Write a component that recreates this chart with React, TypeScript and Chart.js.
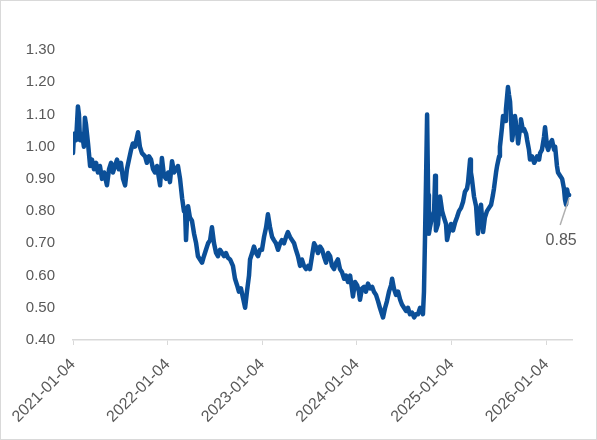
import React, { useEffect, useRef } from "react";
import { Chart, registerables } from "chart.js";

Chart.register(...registerables);

const startDate = "2021-01-04";
const tickLabels = ["2021-01-04", "2022-01-04", "2023-01-04", "2024-01-04", "2025-01-04", "2026-01-04"];
const yTicks = [0.4, 0.5, 0.6, 0.7, 0.8, 0.9, 1.0, 1.1, 1.2, 1.3];

// day offsets from startDate
const dayOffsets = [
  0, 4, 12, 19, 23, 27, 35, 42, 46, 50, 58, 66, 73, 81, 89, 96, 104, 112, 120, 131,
  139, 147, 154, 162, 170, 177, 185, 193, 201, 208, 216, 224, 231, 239, 247, 251, 258, 266, 278, 285,
  293, 301, 309, 316, 324, 332, 336, 343, 351, 359, 367, 374, 382, 390, 397, 405, 413, 421, 428, 432,
  436, 440, 444, 451, 459, 467, 475, 482, 490, 498, 505, 513, 521, 529, 536, 544, 552, 559, 567, 575,
  583, 590, 598, 606, 617, 625, 633, 640, 648, 656, 664, 671, 679, 683, 691, 698, 706, 714, 721, 729,
  737, 745, 752, 760, 768, 775, 783, 791, 799, 806, 814, 822, 829, 837, 845, 853, 860, 868, 876, 883,
  891, 899, 907, 914, 922, 930, 937, 945, 953, 961, 968, 976, 984, 992, 999, 1007, 1015, 1022, 1030, 1038,
  1046, 1053, 1061, 1069, 1076, 1080, 1088, 1096, 1103, 1107, 1115, 1123, 1130, 1138, 1146, 1154, 1161, 1169, 1177, 1184,
  1192, 1196, 1204, 1211, 1219, 1227, 1231, 1238, 1246, 1254, 1262, 1269, 1277, 1285, 1292, 1300, 1308, 1316, 1323, 1331,
  1339, 1346, 1350, 1354, 1358, 1362, 1366, 1370, 1373, 1377, 1385, 1393, 1397, 1400, 1408, 1416, 1424, 1431, 1439, 1443,
  1451, 1458, 1466, 1474, 1481, 1489, 1497, 1505, 1512, 1520, 1524, 1532, 1535, 1539, 1547, 1555, 1562, 1570, 1574, 1582,
  1589, 1597, 1605, 1613, 1620, 1624, 1632, 1636, 1644, 1647, 1655, 1659, 1667, 1670, 1678, 1682, 1686, 1694, 1701, 1705,
  1713, 1717, 1725, 1728, 1736, 1740, 1748, 1752, 1759, 1763, 1771, 1779, 1786, 1790, 1798, 1802, 1809, 1817, 1821, 1829,
  1833, 1840, 1848, 1856, 1860, 1867, 1871, 1879, 1887, 1894, 1898, 1902, 1906, 1910, 1914,
];

const values = [
  0.98, 1.04, 1.02, 1.125, 1.1, 1.02, 1.04, 1.0, 1.09, 1.07, 1.01, 0.94, 0.96, 0.93, 0.95, 0.92, 0.94, 0.9, 0.92, 0.88,
  0.93, 0.95, 0.92, 0.94, 0.96, 0.93, 0.95, 0.9, 0.88, 0.93, 0.96, 0.99, 1.01, 1.0, 1.03, 1.045, 1.0, 0.98, 0.97, 0.95,
  0.97, 0.96, 0.93, 0.92, 0.94, 0.9, 0.88, 0.965, 0.91, 0.9, 0.92, 0.89, 0.955, 0.92, 0.93, 0.94, 0.9, 0.84, 0.8, 0.81,
  0.71, 0.78, 0.815, 0.78, 0.77, 0.73, 0.7, 0.66, 0.65, 0.64, 0.66, 0.68, 0.7, 0.71, 0.75, 0.7, 0.67, 0.66, 0.68, 0.67,
  0.66, 0.67, 0.655, 0.65, 0.63, 0.59, 0.57, 0.55, 0.56, 0.53, 0.5, 0.55, 0.6, 0.65, 0.67, 0.69, 0.67, 0.66, 0.68, 0.68,
  0.72, 0.75, 0.79, 0.75, 0.72, 0.71, 0.7, 0.68, 0.7, 0.71, 0.7, 0.72, 0.735, 0.72, 0.71, 0.7, 0.68, 0.66, 0.63, 0.65,
  0.63, 0.62, 0.63, 0.62, 0.66, 0.7, 0.69, 0.67, 0.69, 0.68, 0.66, 0.64, 0.67, 0.66, 0.63, 0.62, 0.64, 0.65, 0.62, 0.61,
  0.59, 0.6, 0.58, 0.6, 0.56, 0.535, 0.58, 0.57, 0.55, 0.525, 0.56, 0.565, 0.55, 0.575, 0.56, 0.565, 0.55, 0.54, 0.52, 0.5,
  0.48, 0.47, 0.5, 0.52, 0.55, 0.57, 0.59, 0.56, 0.54, 0.55, 0.525, 0.51, 0.5, 0.49, 0.5, 0.48, 0.485, 0.47, 0.48, 0.48,
  0.5, 0.49, 0.48, 0.55, 0.72, 0.9, 1.1, 0.85, 0.73, 0.75, 0.78, 0.8, 0.91, 0.74, 0.76, 0.845, 0.8, 0.78, 0.76, 0.71,
  0.74, 0.76, 0.74, 0.765, 0.78, 0.8, 0.81, 0.83, 0.86, 0.87, 0.89, 0.96, 0.92, 0.9, 0.845, 0.815, 0.73, 0.8, 0.82, 0.735,
  0.78, 0.8, 0.81, 0.82, 0.85, 0.87, 0.92, 0.94, 0.97, 1.0, 1.06, 1.095, 1.08, 1.115, 1.185, 1.16, 1.14, 1.02, 1.06, 1.095,
  1.05, 1.01, 1.06, 1.085, 1.05, 1.055, 1.04, 1.02, 0.99, 0.96, 0.97, 0.95, 0.96, 0.97, 0.96, 0.98, 0.99, 1.03, 1.06, 1.0,
  0.99, 1.01, 1.02, 0.99, 1.0, 0.94, 0.92, 0.91, 0.9, 0.87, 0.836, 0.82, 0.867, 0.85, 0.85,
];

const DAY = 86400000;
const toOffset = (d: string) => Math.round((Date.parse(d) - Date.parse(startDate)) / DAY);

const TEXT = "#595959";
const AXIS = "#d9d9d9";
const LINE = "#0b4f98";
const FONT = "'Liberation Sans', Arial, sans-serif";

const lastLabelPlugin = {
  id: "lastLabel",
  afterDatasetsDraw(chart: any) {
    const meta = chart.getDatasetMeta(0);
    const pt = meta.data[meta.data.length - 1];
    if (!pt) return;
    const ctx = chart.ctx;
    const v = values[values.length - 1];
    ctx.save();
    ctx.strokeStyle = "#b0b0b0";
    ctx.lineWidth = 1.5;
    ctx.beginPath();
    ctx.moveTo(pt.x, pt.y + 3);
    ctx.lineTo(pt.x - 9, pt.y + 30);
    ctx.stroke();
    ctx.fillStyle = TEXT;
    ctx.font = `16px ${FONT}`;
    ctx.textAlign = "center";
    ctx.textBaseline = "middle";
    ctx.fillText(v.toFixed(2), pt.x - 8, pt.y + 46);
    ctx.restore();
  },
};

export default function App() {
  const ref = useRef<HTMLCanvasElement | null>(null);
  useEffect(() => {
    if (!ref.current) return;
    const data = dayOffsets.map((d, i) => ({ x: d, y: values[i] }));
    const tickVals = tickLabels.map(toOffset);
    const chart = new Chart(ref.current, {
      type: "line",
      data: {
        datasets: [
          {
            data,
            borderColor: LINE,
            borderWidth: 4.5,
            pointRadius: 0,
            tension: 0,
            borderJoinStyle: "round",
            borderCapStyle: "round",
            fill: false,
          },
        ],
      },
      options: {
        animation: false,
        responsive: false,
        maintainAspectRatio: false,
        layout: { padding: { top: 49, right: 24, bottom: 0, left: 0 } },
        plugins: { legend: { display: false }, tooltip: { enabled: false } },
        scales: {
          x: {
            type: "linear",
            min: 0,
            max: 1925,
            afterBuildTicks: (scale: any) => {
              scale.ticks = tickVals.map((v) => ({ value: v }));
            },
            afterFit: (scale: any) => {
              scale.height = 99;
            },
            grid: {
              display: true,
              drawOnChartArea: false,
              drawTicks: true,
              tickLength: 5,
              color: AXIS,
            },
            border: { display: true, color: AXIS, width: 1.5 },
            ticks: {
              autoSkip: false,
              maxRotation: 45,
              minRotation: 45,
              color: TEXT,
              font: { family: FONT, size: 16 },
              padding: 10,
              callback: (v: any) => {
                const i = tickVals.indexOf(Number(v));
                return i >= 0 ? tickLabels[i] : "";
              },
            },
          },
          y: {
            min: 0.4,
            max: 1.3,
            afterBuildTicks: (scale: any) => {
              scale.ticks = yTicks.map((v) => ({ value: v }));
            },
            afterFit: (scale: any) => {
              scale.width = 72;
            },
            grid: { display: false, drawTicks: false },
            border: { display: false },
            ticks: {
              color: TEXT,
              font: { family: FONT, size: 15 },
              padding: 18,
              callback: (v: any) => Number(v).toFixed(2),
            },
          },
        },
      },
      plugins: [lastLabelPlugin],
    } as any);
    return () => chart.destroy();
  }, []);
  return (
    <div
      style={{
        position: "absolute",
        left: 0,
        top: 0,
        width: 595,
        height: 438,
        border: "1px solid #d9d9d9",
        background: "#fff",
      }}
    >
      <canvas ref={ref} width={595} height={438} style={{ display: "block", width: 595, height: 438 }} />
    </div>
  );
}
